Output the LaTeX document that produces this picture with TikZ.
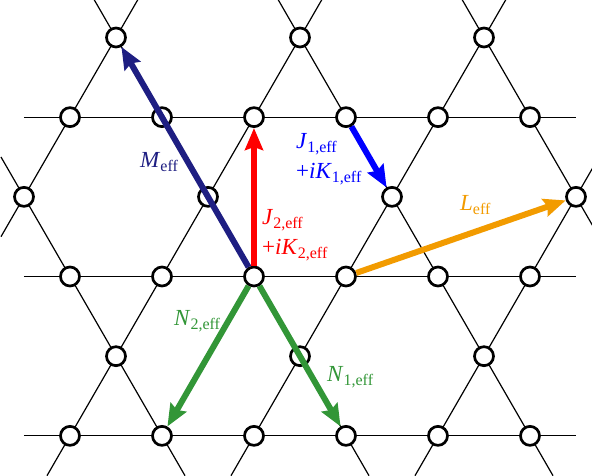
\documentclass[tikz,border=0pt]{standalone}
\usepackage{fontspec}
\setmainfont{Liberation Serif}
\usetikzlibrary{arrows.meta}
\definecolor{navyc}{RGB}{30,30,130}
\definecolor{bluec}{RGB}{0,0,255}
\definecolor{redc}{RGB}{255,0,0}
\definecolor{orangec}{RGB}{242,155,0}
\definecolor{greenc}{RGB}{50,150,55}
\newcommand{\effsub}[1]{\raisebox{-4.5pt}{\fontsize{16}{16}\selectfont #1}}
\def\h{0.8660}
\begin{document}
\begin{tikzpicture}[x=92pt,y=92pt,
  lat/.style={line width=1.2pt, black},
  site/.style={circle, draw=black, fill=white, line width=2.7pt, inner sep=0pt, minimum size=19pt},
  vec/.style={line width=6pt, -{Stealth[length=22pt,width=18pt,inset=3pt]}},
  lab/.style={font=\fontsize{23}{30}\selectfont, inner sep=0pt, anchor=base west, align=left}]
\clip (-254pt,-198.5pt) rectangle (338pt,276.5pt);
% horizontal lattice lines
\foreach \y in {2,0,-2} \draw[lat] (-2.5,{\y*\h}) -- (3.5,{\y*\h});
% up-right lines
\draw[lat] (-2.75,{0.5*\h}) -- (-1.25,{3.5*\h});
\draw[lat] (-2.25,{-2.5*\h}) -- (0.75,{3.5*\h});
\draw[lat] (-0.25,{-2.5*\h}) -- (2.75,{3.5*\h});
\draw[lat] (1.75,{-2.5*\h}) -- (3.75,{1.5*\h});
% up-left lines
\draw[lat] (-0.75,{-2.5*\h}) -- (-2.75,{1.5*\h});
\draw[lat] (1.25,{-2.5*\h}) -- (-1.75,{3.5*\h});
\draw[lat] (3.25,{-2.5*\h}) -- (0.25,{3.5*\h});
\draw[lat] (3.75,{0.5*\h}) -- (2.25,{3.5*\h});
% sites
\foreach \r/\y in {1/2,3/0,5/-2}
  \foreach \i in {0,...,5}
    \node[site] (s\r\i) at ({\i-2},{\y*\h}) {};
\foreach \r/\y in {0/3,4/-1}
  \foreach \i in {0,1,2}
    \node[site] (s\r\i) at ({2*\i-1.5},{\y*\h}) {};
\foreach \i in {0,...,3}
  \node[site] (s2\i) at ({2*\i-2.5},{\h}) {};
% vectors
\draw[vec, navyc] (s32) -- (s00);
\draw[vec, redc] (s32) -- (s12);
\draw[vec, bluec] (s13) -- (s22);
\draw[vec, orangec] (s33) -- (s23);
\draw[vec, greenc] (s32) -- (s51);
\draw[vec, greenc] (s32) -- (s53);
% labels
\node[lab, text=navyc] (lM) at (-114pt,109.5pt) {\textit{M}\effsub{eff}};
\node[lab, text=bluec] (lJ1) at (42pt,98.5pt) {\textit{J}\effsub{1,eff}\\+\textit{iK}\effsub{1,eff}};
\node[lab, text=redc] (lJ2) at (8pt,22.5pt) {\textit{J}\effsub{2,eff}\\+\textit{iK}\effsub{2,eff}};
\node[lab, text=orangec] (lL) at (206pt,66.5pt) {\textit{L}\effsub{eff}};
\node[lab, text=greenc] (lN2) at (-80pt,-48.5pt) {\textit{N}\effsub{2,eff}};
\node[lab, text=greenc] (lN1) at (73pt,-104.5pt) {\textit{N}\effsub{1,eff}};
\end{tikzpicture}
\end{document}
